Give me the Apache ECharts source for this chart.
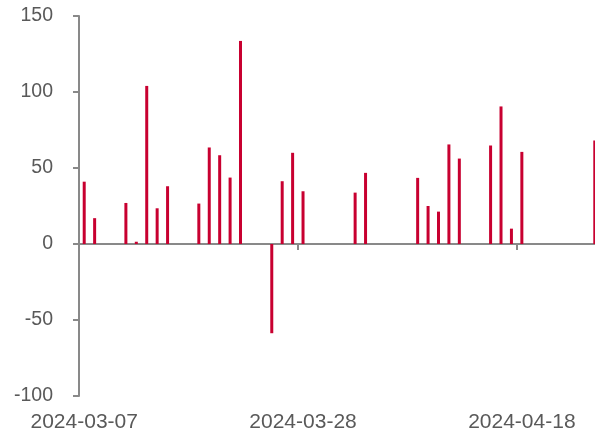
<!DOCTYPE html>
<html>
<head>
<meta charset="utf-8">
<script src="https://cdn.jsdelivr.net/npm/echarts@6/dist/echarts.min.js"></script>
<style>
html, body { margin: 0; padding: 0; background: #fff; }
#chart { width: 595px; height: 436px; }
</style>
</head>
<body>
<div id="chart"></div>
<script>
// 日期与数值
var dates = [
  '2024-03-07', '2024-03-08', '2024-03-11', '2024-03-12', '2024-03-13', '2024-03-14', '2024-03-15',
  '2024-03-18', '2024-03-19', '2024-03-20', '2024-03-21', '2024-03-22',
  '2024-03-25', '2024-03-26', '2024-03-27', '2024-03-28',
  '2024-04-02', '2024-04-03',
  '2024-04-08', '2024-04-09', '2024-04-10', '2024-04-11', '2024-04-12',
  '2024-04-15', '2024-04-16', '2024-04-17', '2024-04-18',
  '2024-04-25'
]
var values = [
  41, 17, 27, 1.5, 104, 23.5, 38,
  26.6, 63.5, 58.4, 43.7, 133.6,
  -58.7, 41.3, 60, 34.7,
  33.8, 46.8,
  43.5, 25, 21.3, 65.5, 56.2,
  64.8, 90.5, 10.1, 60.6,
  68.1
]
var tickLabels = ['2024-03-07', '2024-03-28', '2024-04-18']
var yTicks = [-100, -50, 0, 50, 100, 150]

var DAY = 86400000
var start = Date.parse(dates[0])
function dayOf(d) {
  return (Date.parse(d) - start) / DAY
}
function dateOf(v) {
  var t = new Date(start + Math.floor(v) * DAY)
  return t.toISOString().slice(0, 10)
}

var barData = dates.map(function (d, i) {
  return [dayOf(d) + 0.5, values[i]]
})
var tickPos = tickLabels.map(dayOf)
var labelPos = tickLabels.map(function (d) { return dayOf(d) + 0.5 })

var axisColor = '#898989'
var textColor = '#595959'

var options = {
  animation: false,
  grid: {
    left: 79,
    top: 16,
    width: 521,
    height: 380,
    outerBoundsMode: 'none',
    containLabel: false
  },
  xAxis: [{
    // 零线和刻度
    type: 'value',
    min: 0,
    max: 50,
    axisLine: {
      onZero: true,
      lineStyle: { color: axisColor, width: 2 }
    },
    axisTick: {
      show: true,
      length: 6,
      customValues: tickPos,
      lineStyle: { color: axisColor, width: 2 }
    },
    axisLabel: { show: false },
    splitLine: { show: false }
  }, {
    // 底部日期标签
    type: 'value',
    position: 'bottom',
    min: 0,
    max: 50,
    axisLine: { show: false, onZero: false },
    axisTick: { show: false },
    axisLabel: {
      customValues: labelPos,
      margin: 16,
      color: textColor,
      fontFamily: 'Liberation Sans, Arial, sans-serif',
      fontSize: 21,
      formatter: function (v) {
        return dateOf(v)
      }
    },
    splitLine: { show: false }
  }],
  yAxis: {
    type: 'value',
    min: yTicks[0],
    max: yTicks[yTicks.length - 1],
    interval: 50,
    axisLine: {
      show: true,
      lineStyle: { color: axisColor, width: 2 }
    },
    axisTick: {
      show: true,
      length: 6,
      lineStyle: { color: axisColor, width: 2 }
    },
    axisLabel: {
      margin: 26,
      color: textColor,
      fontFamily: 'Liberation Sans, Arial, sans-serif',
      fontSize: 19.5
    },
    splitLine: { show: false }
  },
  series: [{
    type: 'bar',
    barWidth: 3,
    itemStyle: { color: '#C80030' },
    data: barData
  }]
}

var chart = echarts.init(document.getElementById('chart'))
chart.setOption(options)
</script>
</body>
</html>
